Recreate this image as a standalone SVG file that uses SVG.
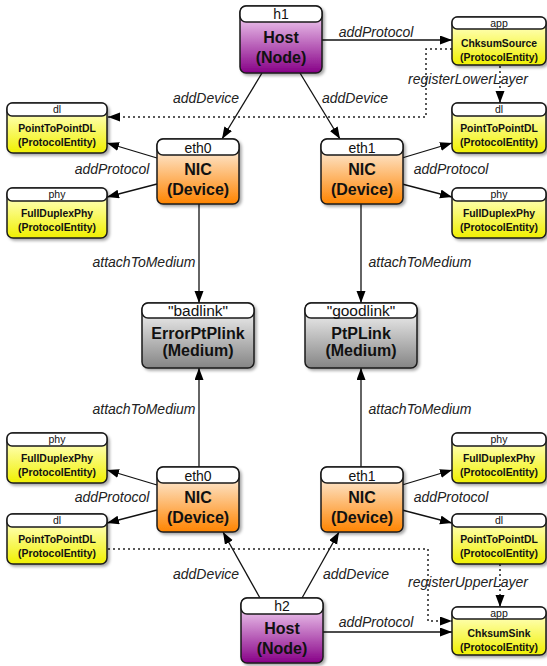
<svg xmlns="http://www.w3.org/2000/svg" width="547" height="666" viewBox="0 0 547 666">
<defs>
<linearGradient id="gHost" x1="0" y1="0" x2="0" y2="1"><stop offset="0.2" stop-color="#e8bce8"/><stop offset="1" stop-color="#870087"/></linearGradient>
<linearGradient id="gNic" x1="0" y1="0" x2="0" y2="1"><stop offset="0.2" stop-color="#fde4c8"/><stop offset="1" stop-color="#ff8400"/></linearGradient>
<linearGradient id="gYel" x1="0" y1="0" x2="0" y2="1"><stop offset="0.2" stop-color="#ffffb4"/><stop offset="1" stop-color="#f0f000"/></linearGradient>
<linearGradient id="gMed" x1="0" y1="0" x2="0" y2="1"><stop offset="0.2" stop-color="#e4e4e4"/><stop offset="1" stop-color="#858585"/></linearGradient>
<filter id="sh" x="-10%" y="-10%" width="130%" height="130%"><feDropShadow dx="2" dy="2" stdDeviation="1.5" flood-color="#000" flood-opacity="0.35"/></filter>
<marker id="ah" markerUnits="userSpaceOnUse" markerWidth="13" markerHeight="10" refX="12" refY="4.5" orient="auto"><path d="M0,0 L12,4.5 L0,9 z" fill="#000"/></marker>
</defs>
<style>
.box{stroke:#1a1a1a;stroke-width:1.5}
.hd{fill:#fff;stroke:#1a1a1a;stroke-width:1.5}
text{font-family:"Liberation Sans",Arial,sans-serif;text-anchor:middle;fill:#111}
.ht{font-size:14px}
.mh{font-size:15.5px}
.bt{font-size:16px;font-weight:bold}
.yh{font-size:10.5px}
.yt{font-size:10.4px;font-weight:bold}
.lbl{font-size:14px;font-style:italic;fill:#222}
.c{fill:none;stroke:#111;stroke-width:1.3;marker-end:url(#ah)}
.d{fill:none;stroke:#222;stroke-width:1.5;stroke-dasharray:2,3;marker-end:url(#ah)}
</style>

<g id="connectors">
<line class="c" x1="322" y1="40" x2="452" y2="40"/>
<line class="c" x1="262" y1="73" x2="222" y2="139"/>
<line class="c" x1="300" y1="73" x2="340" y2="139"/>
<line class="c" x1="157" y1="158" x2="107" y2="143"/>
<line class="c" x1="157" y1="184" x2="107" y2="197"/>
<line class="c" x1="402" y1="158" x2="452" y2="143"/>
<line class="c" x1="402" y1="184" x2="452" y2="197"/>
<line class="c" x1="199" y1="204" x2="199" y2="303"/>
<line class="c" x1="361" y1="204" x2="361" y2="303"/>
<line class="c" x1="199" y1="467" x2="199" y2="368"/>
<line class="c" x1="361" y1="467" x2="361" y2="368"/>
<line class="c" x1="157" y1="485" x2="107" y2="470"/>
<line class="c" x1="157" y1="510" x2="107" y2="523"/>
<line class="c" x1="402" y1="485" x2="452" y2="470"/>
<line class="c" x1="402" y1="510" x2="452" y2="523"/>
<line class="c" x1="260" y1="598" x2="223" y2="532"/>
<line class="c" x1="302" y1="598" x2="339" y2="532"/>
<line class="c" x1="323" y1="632" x2="452" y2="632"/>
<path class="d" d="M452,49 H426 V117 H108"/>
<path class="d" d="M500,66 V103"/>
<path class="d" d="M108,549 H428 V621 H452"/>
<path class="d" d="M500,564 V607"/>
<text class="lbl" x="376" y="37">addProtocol</text>
<text class="lbl" x="468" y="84">registerLowerLayer</text>
<text class="lbl" x="206" y="103">addDevice</text>
<text class="lbl" x="355" y="103">addDevice</text>
<text class="lbl" x="112" y="174">addProtocol</text>
<text class="lbl" x="451" y="174">addProtocol</text>
<text class="lbl" x="144" y="267">attachToMedium</text>
<text class="lbl" x="420" y="267">attachToMedium</text>
<text class="lbl" x="144" y="414">attachToMedium</text>
<text class="lbl" x="420" y="414">attachToMedium</text>
<text class="lbl" x="112" y="502">addProtocol</text>
<text class="lbl" x="451" y="502">addProtocol</text>
<text class="lbl" x="206" y="579">addDevice</text>
<text class="lbl" x="356" y="579">addDevice</text>
<text class="lbl" x="468" y="587">registerUpperLayer</text>
<text class="lbl" x="376" y="627">addProtocol</text>
</g>

<g id="h1" transform="translate(240,6)">
<rect class="box" width="82" height="67" rx="6" fill="url(#gHost)" filter="url(#sh)"/>
<rect class="hd" width="82" height="16" rx="6"/>
<text class="ht" x="41" y="13">h1</text>
<text class="bt" x="41" y="37">Host</text>
<text class="bt" x="41" y="57">(Node)</text>
</g>

<g id="app_src" transform="translate(452,17)">
<rect class="box" width="94" height="48" rx="6" fill="url(#gYel)" filter="url(#sh)"/>
<rect class="hd" width="94" height="12" rx="5"/>
<text class="yh" x="47" y="10">app</text>
<text class="yt" x="47" y="30">ChksumSource</text>
<text class="yt" x="47" y="44">(ProtocolEntity)</text>
</g>

<g id="dl_top_left" transform="translate(7,103)">
<rect class="box" width="100" height="50" rx="6" fill="url(#gYel)" filter="url(#sh)"/>
<rect class="hd" width="100" height="13" rx="5"/>
<text class="yh" x="50" y="10">dl</text>
<text class="yt" x="50" y="29">PointToPointDL</text>
<text class="yt" x="50" y="43">(ProtocolEntity)</text>
</g>

<g id="phy_top_left" transform="translate(7,188)">
<rect class="box" width="100" height="50" rx="6" fill="url(#gYel)" filter="url(#sh)"/>
<rect class="hd" width="100" height="13" rx="5"/>
<text class="yh" x="50" y="10">phy</text>
<text class="yt" x="50" y="29">FullDuplexPhy</text>
<text class="yt" x="50" y="43">(ProtocolEntity)</text>
</g>

<g id="dl_top_right" transform="translate(452,103)">
<rect class="box" width="94" height="50" rx="6" fill="url(#gYel)" filter="url(#sh)"/>
<rect class="hd" width="94" height="13" rx="5"/>
<text class="yh" x="47" y="10">dl</text>
<text class="yt" x="47" y="29">PointToPointDL</text>
<text class="yt" x="47" y="43">(ProtocolEntity)</text>
</g>

<g id="phy_top_right" transform="translate(452,188)">
<rect class="box" width="94" height="50" rx="6" fill="url(#gYel)" filter="url(#sh)"/>
<rect class="hd" width="94" height="13" rx="5"/>
<text class="yh" x="47" y="10">phy</text>
<text class="yt" x="47" y="29">FullDuplexPhy</text>
<text class="yt" x="47" y="43">(ProtocolEntity)</text>
</g>

<g id="eth0_top" transform="translate(157,139)">
<rect class="box" width="82" height="65" rx="6" fill="url(#gNic)" filter="url(#sh)"/>
<rect class="hd" width="82" height="16" rx="6"/>
<text class="ht" x="41" y="14">eth0</text>
<text class="bt" x="41" y="36">NIC</text>
<text class="bt" x="41" y="56">(Device)</text>
</g>

<g id="eth1_top" transform="translate(321,139)">
<rect class="box" width="82" height="65" rx="6" fill="url(#gNic)" filter="url(#sh)"/>
<rect class="hd" width="82" height="16" rx="6"/>
<text class="ht" x="41" y="14">eth1</text>
<text class="bt" x="41" y="36">NIC</text>
<text class="bt" x="41" y="56">(Device)</text>
</g>

<g id="badlink" transform="translate(142,303)">
<rect class="box" width="112" height="65" rx="6" fill="url(#gMed)" filter="url(#sh)"/>
<rect class="hd" width="112" height="15" rx="6"/>
<text class="mh" x="56" y="12.5">"badlink"</text>
<text class="bt" x="56" y="36">ErrorPtPlink</text>
<text class="bt" x="56" y="53">(Medium)</text>
</g>

<g id="goodlink" transform="translate(305,303)">
<rect class="box" width="112" height="65" rx="6" fill="url(#gMed)" filter="url(#sh)"/>
<rect class="hd" width="112" height="15" rx="6"/>
<text class="mh" x="56" y="12.5">"goodlink"</text>
<text class="bt" x="56" y="36">PtPLink</text>
<text class="bt" x="56" y="53">(Medium)</text>
</g>

<g id="phy_bot_left" transform="translate(7,433)">
<rect class="box" width="100" height="50" rx="6" fill="url(#gYel)" filter="url(#sh)"/>
<rect class="hd" width="100" height="13" rx="5"/>
<text class="yh" x="50" y="10">phy</text>
<text class="yt" x="50" y="29">FullDuplexPhy</text>
<text class="yt" x="50" y="43">(ProtocolEntity)</text>
</g>

<g id="dl_bot_left" transform="translate(7,514)">
<rect class="box" width="100" height="50" rx="6" fill="url(#gYel)" filter="url(#sh)"/>
<rect class="hd" width="100" height="13" rx="5"/>
<text class="yh" x="50" y="10">dl</text>
<text class="yt" x="50" y="29">PointToPointDL</text>
<text class="yt" x="50" y="43">(ProtocolEntity)</text>
</g>

<g id="phy_bot_right" transform="translate(452,433)">
<rect class="box" width="94" height="50" rx="6" fill="url(#gYel)" filter="url(#sh)"/>
<rect class="hd" width="94" height="13" rx="5"/>
<text class="yh" x="47" y="10">phy</text>
<text class="yt" x="47" y="29">FullDuplexPhy</text>
<text class="yt" x="47" y="43">(ProtocolEntity)</text>
</g>

<g id="dl_bot_right" transform="translate(452,514)">
<rect class="box" width="94" height="50" rx="6" fill="url(#gYel)" filter="url(#sh)"/>
<rect class="hd" width="94" height="13" rx="5"/>
<text class="yh" x="47" y="10">dl</text>
<text class="yt" x="47" y="29">PointToPointDL</text>
<text class="yt" x="47" y="43">(ProtocolEntity)</text>
</g>

<g id="eth0_bot" transform="translate(157,467)">
<rect class="box" width="82" height="65" rx="6" fill="url(#gNic)" filter="url(#sh)"/>
<rect class="hd" width="82" height="16" rx="6"/>
<text class="ht" x="41" y="14">eth0</text>
<text class="bt" x="41" y="36">NIC</text>
<text class="bt" x="41" y="56">(Device)</text>
</g>

<g id="eth1_bot" transform="translate(321,467)">
<rect class="box" width="82" height="65" rx="6" fill="url(#gNic)" filter="url(#sh)"/>
<rect class="hd" width="82" height="16" rx="6"/>
<text class="ht" x="41" y="14">eth1</text>
<text class="bt" x="41" y="36">NIC</text>
<text class="bt" x="41" y="56">(Device)</text>
</g>

<g id="h2" transform="translate(241,598)">
<rect class="box" width="82" height="65" rx="6" fill="url(#gHost)" filter="url(#sh)"/>
<rect class="hd" width="82" height="16" rx="6"/>
<text class="ht" x="41" y="13">h2</text>
<text class="bt" x="41" y="36">Host</text>
<text class="bt" x="41" y="56">(Node)</text>
</g>

<g id="app_sink" transform="translate(452,607)">
<rect class="box" width="94" height="48" rx="6" fill="url(#gYel)" filter="url(#sh)"/>
<rect class="hd" width="94" height="12" rx="5"/>
<text class="yh" x="47" y="10">app</text>
<text class="yt" x="47" y="30">ChksumSink</text>
<text class="yt" x="47" y="44">(ProtocolEntity)</text>
</g>
</svg>
